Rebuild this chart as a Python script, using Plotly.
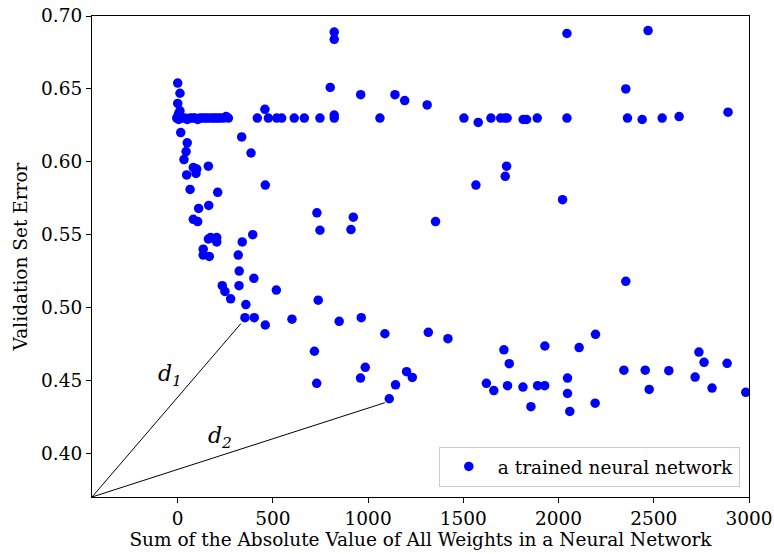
import plotly.graph_objects as go

# Sum of absolute weights (x) and validation set error (y) for each trained network
weights_sum = [
    822, 822, 2044, 2470,
    0, 12, 0, 12, 5,
    -5, 0, 5, 12, 20, 38, 50, 65, 80, 91, 105, 117, 130, 143, 155, 170, 185, 196, 210, 222, 240, 254, 266,
    418, 458, 476, 520, 546, 612, 665, 747, 822, 822, 1062,
    801, 961, 1141, 1192, 1310,
    1503, 1578, 1645, 1696, 1718, 1730, 1814, 1832, 1888, 2044, 2353, 2362, 2439, 2544, 2633, 2890,
    16, 50, 44, 33, 336, 385,
    161, 82, 100, 47, 96,
    65, 210, 460,
    110, 163, 82, 105,
    161, 173, 205, 205,
    134, 134, 166,
    394, 339, 318, 323, 400,
    234, 248, 322, 278, 518, 358, 353, 402, 460, 600,
    738, 848, 964,
    731, 747, 922, 910, 1354,
    1727, 1720, 1566, 2021, 2353,
    718, 730, 985, 960,
    1088, 1316, 1419,
    1202, 1232, 1144, 1111,
    1621, 1660,
    1713, 1741, 1928, 2108, 2194,
    1732, 1813, 1890, 1927, 1855,
    2047, 2047, 2059, 2192,
    2343, 2455, 2476, 2579,
    2737, 2764, 2717, 2806, 2885, 2983,
]
val_error = [
    0.689, 0.684, 0.688, 0.690,
    0.654, 0.647, 0.640, 0.635, 0.633,
    0.630, 0.631, 0.629, 0.630, 0.630, 0.630, 0.629, 0.630, 0.630, 0.630, 0.629, 0.630, 0.630, 0.630, 0.630, 0.630, 0.630, 0.630, 0.630, 0.630, 0.630, 0.631, 0.630,
    0.630, 0.636, 0.630, 0.630, 0.630, 0.630, 0.630, 0.630, 0.632, 0.630, 0.630,
    0.651, 0.646, 0.646, 0.642, 0.639,
    0.630, 0.627, 0.630, 0.630, 0.630, 0.630, 0.629, 0.629, 0.630, 0.630, 0.650, 0.630, 0.629, 0.630, 0.631, 0.634,
    0.620, 0.613, 0.607, 0.6015, 0.617, 0.606,
    0.597, 0.596, 0.595, 0.591, 0.592,
    0.581, 0.579, 0.584,
    0.568, 0.570, 0.5605, 0.559,
    0.547, 0.548, 0.548, 0.545,
    0.540, 0.536, 0.535,
    0.550, 0.545, 0.536, 0.525, 0.520,
    0.515, 0.511, 0.515, 0.506, 0.512, 0.502, 0.493, 0.493, 0.488, 0.492,
    0.505, 0.4905, 0.493,
    0.565, 0.553, 0.562, 0.5535, 0.559,
    0.597, 0.590, 0.584, 0.574, 0.518,
    0.470, 0.448, 0.459, 0.4516,
    0.482, 0.483, 0.4786,
    0.456, 0.452, 0.447, 0.4374,
    0.448, 0.443,
    0.471, 0.4615, 0.4736, 0.4725, 0.4816,
    0.4464, 0.4454, 0.4464, 0.4464, 0.432,
    0.4516, 0.441, 0.4287, 0.4344,
    0.457, 0.457, 0.4438, 0.4567,
    0.4694, 0.4624, 0.4523, 0.4447, 0.4617, 0.4418,
]

# Distance lines d1, d2 from the lower-left origin
line_origin = (-450, 0.37)
d1_end = (332, 0.489)
d2_end = (1088, 0.4347)
d1_label_pos = (-40, 0.4534)
d2_label_pos = (222, 0.4108)

x_ticks = [0, 500, 1000, 1500, 2000, 2500, 3000]
y_ticks = [0.40, 0.45, 0.50, 0.55, 0.60, 0.65, 0.70]

FONT = "DejaVu Serif"
FS = 18.5

fig = go.Figure()
for end in (d1_end, d2_end):
    fig.add_trace(go.Scatter(
        x=[line_origin[0], end[0]], y=[line_origin[1], end[1]],
        mode="lines", line=dict(color="black", width=1),
        showlegend=False, hoverinfo="skip"))

fig.add_trace(go.Scatter(
    x=weights_sum, y=val_error, mode="markers",
    marker=dict(color="#0000ff", size=9.5, line=dict(width=0)),
    name="a trained neural network"))

for (lx, ly), sub in ((d1_label_pos, "1"), (d2_label_pos, "2")):
    fig.add_annotation(x=lx, y=ly, xref="x", yref="y",
                       text=f"<i>d<sub>{sub}</sub></i>", showarrow=False,
                       font=dict(family=FONT, size=22, color="black"))

axis_common = dict(showline=True, mirror=True, linecolor="black", linewidth=1,
                   ticks="outside", ticklen=5, tickcolor="black", tickwidth=1,
                   showgrid=False, zeroline=False, automargin=False,
                   tickfont=dict(family=FONT, size=FS, color="black"))

fig.update_xaxes(range=[-450, 3000], tickvals=x_ticks,
                 title=dict(text="Sum of the Absolute Value of All Weights in a Neural Network",
                            font=dict(family=FONT, size=FS, color="black"), standoff=0),
                 **axis_common)
fig.update_yaxes(range=[0.37, 0.70], tickvals=y_ticks, tickformat=".2f",
                 title=dict(text="Validation Set Error",
                            font=dict(family=FONT, size=FS, color="black"), standoff=8),
                 **axis_common)

fig.update_layout(
    width=774, height=554,
    margin=dict(l=92, r=25, t=16, b=57),
    plot_bgcolor="white", paper_bgcolor="white",
    font=dict(family=FONT, size=FS, color="black"),
    legend=dict(x=0.986, y=0.021, xanchor="right", yanchor="bottom",
                bgcolor="white", bordercolor="#cccccc", borderwidth=1,
                itemwidth=48,
                font=dict(family=FONT, size=FS, color="black")),
)

fig.write_html("out.html", config={"displayModeBar": False},
               post_script="document.body.style.margin='0px';")
